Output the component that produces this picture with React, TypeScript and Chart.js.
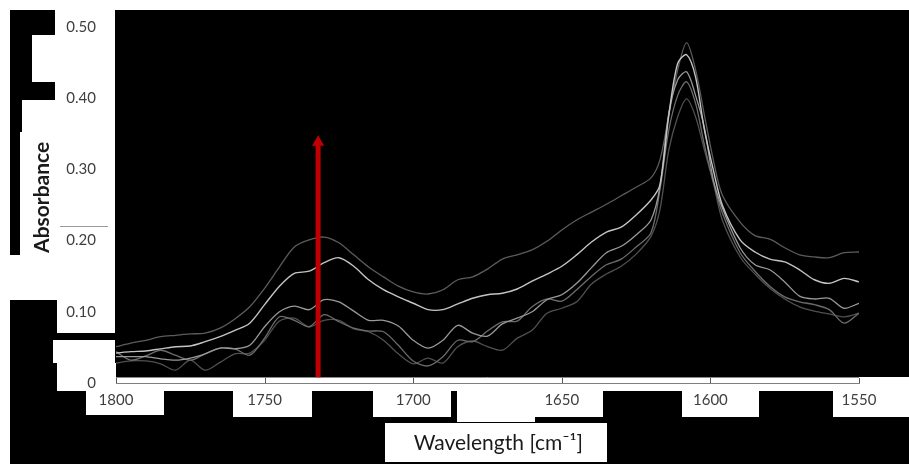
import React, { useEffect, useRef } from "react";
import { Chart, registerables } from "chart.js";

Chart.register(...registerables);

// Wavenumber grid (cm-1)
const wavenumbers = [
  1800, 1795, 1790, 1785, 1780, 1775, 1770, 1765, 1760, 1755, 1750, 1745, 1740,
  1735, 1730, 1725, 1720, 1715, 1710, 1705, 1700, 1695, 1690, 1685, 1680, 1675,
  1670, 1665, 1660, 1655, 1650, 1645, 1640, 1635, 1630, 1625, 1620,
  1617, 1614, 1611, 1608, 1605, 1602, 1599, 1596,
  1590, 1585, 1580, 1575, 1570, 1565, 1560, 1555, 1550,
];

// Absorbance spectra
const spectrumA = [
  0.051, 0.056, 0.060, 0.065, 0.067, 0.069, 0.070, 0.077, 0.090, 0.107, 0.133, 0.163, 0.191,
  0.201, 0.205, 0.197, 0.180, 0.163, 0.149, 0.136, 0.128, 0.125, 0.131, 0.145, 0.149, 0.160,
  0.174, 0.180, 0.187, 0.199, 0.215, 0.229, 0.240, 0.251, 0.263, 0.275, 0.288,
  0.313, 0.376, 0.440, 0.478, 0.440, 0.376, 0.313, 0.264,
  0.226, 0.207, 0.202, 0.190, 0.180, 0.177, 0.176, 0.183, 0.184,
];
const spectrumB = [
  0.042, 0.044, 0.045, 0.048, 0.051, 0.052, 0.058, 0.065, 0.074, 0.084, 0.110, 0.136, 0.154,
  0.157, 0.169, 0.176, 0.164, 0.145, 0.131, 0.121, 0.112, 0.103, 0.103, 0.111, 0.119, 0.124,
  0.126, 0.132, 0.143, 0.153, 0.164, 0.180, 0.198, 0.212, 0.219, 0.236, 0.257,
  0.278, 0.376, 0.449, 0.461, 0.430, 0.355, 0.299, 0.250,
  0.201, 0.184, 0.174, 0.170, 0.159, 0.145, 0.140, 0.147, 0.142,
];
const spectrumC = [
  0.037, 0.037, 0.037, 0.034, 0.032, 0.035, 0.041, 0.049, 0.048, 0.053, 0.079, 0.100, 0.108,
  0.103, 0.117, 0.114, 0.101, 0.088, 0.088, 0.080, 0.060, 0.049, 0.060, 0.081, 0.070, 0.066,
  0.083, 0.091, 0.100, 0.117, 0.124, 0.140, 0.162, 0.183, 0.192, 0.208, 0.229,
  0.275, 0.379, 0.426, 0.437, 0.404, 0.358, 0.285, 0.246,
  0.190, 0.166, 0.159, 0.142, 0.122, 0.118, 0.119, 0.105, 0.112,
];
const spectrumD = [
  0.044, 0.032, 0.038, 0.046, 0.039, 0.032, 0.041, 0.049, 0.048, 0.039, 0.063, 0.093, 0.088,
  0.079, 0.096, 0.086, 0.077, 0.073, 0.072, 0.053, 0.031, 0.024, 0.037, 0.060, 0.058, 0.073,
  0.086, 0.087, 0.107, 0.118, 0.115, 0.131, 0.150, 0.166, 0.174, 0.191, 0.211,
  0.271, 0.355, 0.404, 0.423, 0.393, 0.334, 0.282, 0.239,
  0.183, 0.157, 0.136, 0.121, 0.114, 0.110, 0.103, 0.084, 0.098,
];
const spectrumE = [
  0.028, 0.031, 0.031, 0.027, 0.018, 0.032, 0.018, 0.029, 0.041, 0.042, 0.060, 0.087, 0.091,
  0.079, 0.088, 0.088, 0.076, 0.072, 0.060, 0.041, 0.027, 0.035, 0.028, 0.051, 0.059, 0.051,
  0.046, 0.063, 0.074, 0.098, 0.105, 0.114, 0.139, 0.153, 0.164, 0.181, 0.206,
  0.243, 0.327, 0.374, 0.399, 0.374, 0.327, 0.281, 0.229,
  0.177, 0.153, 0.133, 0.118, 0.107, 0.101, 0.097, 0.093, 0.098,
];

// Red arrow (wavenumber, bottom and top absorbance)
const arrowWavenumber = 1732;
const arrowBottom = 0.008;
const arrowTop = 0.338;

// Axis settings
const xMin = 1550;
const xMax = 1800;
const xStep = 50;
const yMin = 0;
const yMax = 0.5;
const yStep = 0.1;

const xTitle = "    Wavelength [cm\u207B\u00B9]";
const yTitle = "   Absorbance";

// White cut-outs of the black backdrop: [x, y, w, h]
const WHITE_PATCHES: number[][] = [
  [55, 10, 60, 25],
  [32, 35, 83, 47],
  [55, 82, 60, 18],
  [22, 100, 93, 32],
  [20, 132, 95, 123],
  [10, 255, 105, 45],
  [57, 300, 58, 33],
  [53, 340, 62, 23],
  [57, 363, 59, 20],
  [57, 377, 852, 14],
  [86, 383, 78, 32],
  [233, 391, 79, 26],
  [373, 391, 78, 26],
  [457, 391, 78, 31],
  [535, 391, 68, 26],
  [682, 391, 77, 26],
  [833, 383, 76, 34],
  [385, 423, 222, 39],
];

const backdropPlugin = {
  id: "backdrop",
  beforeDraw(chart: any) {
    const { ctx, width, height } = chart;
    ctx.save();
    ctx.fillStyle = "#ffffff";
    ctx.fillRect(0, 0, width, height);
    ctx.fillStyle = "#000000";
    ctx.fillRect(10, 10, width - 10, height - 10);
    ctx.fillStyle = "#ffffff";
    for (const [x, y, w, h] of WHITE_PATCHES) ctx.fillRect(x, y, w, h);
    ctx.lineWidth = 1;
    ctx.strokeStyle = "#9a9a9a";
    ctx.beginPath();
    ctx.moveTo(60, 226.5);
    ctx.lineTo(108, 226.5);
    ctx.stroke();
    const { left, right, bottom } = chart.chartArea;
    ctx.strokeStyle = "#8a8a8a";
    ctx.beginPath();
    ctx.moveTo(left, bottom - 5.5);
    ctx.lineTo(right, bottom - 5.5);
    ctx.stroke();
    const xs = chart.scales.x;
    ctx.strokeStyle = "#595959";
    xs.ticks.forEach((t: any) => {
      const px = Math.round(xs.getPixelForValue(t.value)) + 0.5;
      ctx.beginPath();
      ctx.moveTo(px, bottom - 5);
      ctx.lineTo(px, bottom);
      ctx.stroke();
    });
    ctx.restore();
  },
};

const toPoints = (vals: number[]) => wavenumbers.map((w, i) => ({ x: w, y: vals[i] }));

export default function App() {
  const canvasRef = useRef<HTMLCanvasElement | null>(null);

  useEffect(() => {
    const canvas = canvasRef.current;
    if (!canvas) return;
    const lineDs = (label: string, vals: number[], color: string, w: number) => ({
      label,
      data: toPoints(vals),
      borderColor: color,
      backgroundColor: color,
      borderWidth: w,
      pointRadius: 0,
      tension: 0.3,
      fill: false,
    });
    const chart = new Chart(canvas, {
      type: "line",
      data: {
        datasets: [
          {
            label: "arrow",
            data: [
              { x: arrowWavenumber, y: arrowBottom },
              { x: arrowWavenumber, y: arrowTop },
            ],
            borderColor: "#c00000",
            backgroundColor: "#c00000",
            borderWidth: 5,
            borderCapStyle: "butt",
            pointRadius: [0, 7],
            pointStyle: "triangle",
            pointBorderWidth: 0,
            pointBackgroundColor: "#c00000",
            tension: 0,
          } as any,
          lineDs("B", spectrumB, "#c4c4c4", 1.4),
          lineDs("C", spectrumC, "#999999", 1.3),
          lineDs("A", spectrumA, "#5c5c5c", 1.3),
          lineDs("D", spectrumD, "#6c6c6c", 1.3),
          lineDs("E", spectrumE, "#505050", 1.3),
        ],
      },
      options: {
        animation: false,
        responsive: false,
        devicePixelRatio: 1,
        layout: { padding: { top: 27, right: 50, bottom: 0, left: 0 } },
        plugins: { legend: { display: false }, tooltip: { enabled: false } },
        scales: {
          x: {
            type: "linear",
            reverse: true,
            min: xMin,
            max: xMax,
            afterFit: (s: any) => {
              s.height = 81;
            },
            ticks: {
              stepSize: xStep,
              padding: 8,
              color: "#3f3f3f",
              font: { family: "Lato", size: 15 },
              maxRotation: 0,
              callback: (v: any) => String(v),
            },
            grid: { display: true, drawOnChartArea: false, drawTicks: false },
            border: { display: true, color: "#7f7f7f", width: 1 },
            title: {
              display: true,
              text: xTitle,
              color: "#1a1a1a",
              font: { family: "Lato", size: 21, weight: "normal" },
              padding: { top: 0, bottom: 8 },
            },
          },
          y: {
            type: "linear",
            min: yMin,
            max: yMax,
            afterFit: (s: any) => {
              s.width = 116;
            },
            ticks: {
              stepSize: yStep,
              padding: 12,
              color: "#3f3f3f",
              font: { family: "Lato", size: 15 },
              callback: (v: any) => (Number(v) === 0 ? "0" : Number(v).toFixed(2)),
            },
            grid: { display: false },
            border: { display: false },
            title: {
              display: true,
              text: yTitle,
              color: "#1a1a1a",
              font: { family: "Lato", size: 21, weight: "bold" },
              padding: { top: 30, bottom: 0 },
            },
          },
        },
      },
      plugins: [backdropPlugin],
    } as any);
    return () => chart.destroy();
  }, []);

  return (
    <div style={{ position: "absolute", left: 0, top: 0, width: 909, height: 464 }}>
      <canvas ref={canvasRef} width={909} height={464} style={{ display: "block" }} />
    </div>
  );
}
